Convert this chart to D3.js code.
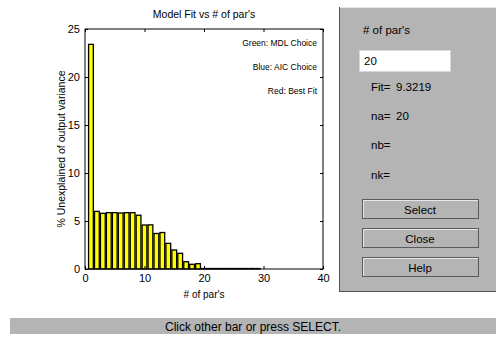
<!DOCTYPE html>
<html>
<head>
<meta charset="utf-8">
<script src="https://cdn.jsdelivr.net/npm/d3@7"></script>
<style>
  body { margin: 0; background: #fff; }
  svg { display: block; font-family: "Liberation Sans", Arial, sans-serif; }
</style>
</head>
<body>
<svg id="chart" width="496" height="342"></svg>
<script>
// number of parameters per bar and the fit value
const nPars = [1, 2, 3, 4, 5, 6, 7, 8, 9, 10, 11, 12, 13, 14, 15, 16, 17, 18, 19,
               20, 21, 22, 23, 24, 25, 26, 27, 28, 29];
const unexplained = [23.4, 6.0, 5.8, 5.87, 5.87, 5.83, 5.87, 5.87, 5.6, 4.58, 4.6, 3.7, 3.8, 2.67, 1.98, 1.63, 0.76, 0.49, 0.55,
                     0.05, 0.05, 0.05, 0.05, 0.05, 0.05, 0.05, 0.05, 0.05, 0.05];
const xTicks = [0, 10, 20, 30, 40];
const yTicks = [0, 5, 10, 15, 20, 25];
const legendLines = ["Green: MDL Choice", "Blue: AIC Choice", "Red: Best Fit"];
const panelInfo = [["Fit=", "9.3219"], ["na=", "20"], ["nb=", ""], ["nk=", ""]];
const buttons = ["Select", "Close", "Help"];

const margin = { left: 85, top: 29 };
const width = 238, height = 240;

const svg = d3.select('#chart');

const g = svg.append('g')
    .attr('transform', `translate(${margin.left},${margin.top})`);

const x = d3.scaleLinear().domain([0, 40]).range([0, width]);
const y = d3.scaleLinear().domain([0, 25]).range([height, 0]);
const barW = x(0.8) - x(0);

g.selectAll('.bar')
    .data(nPars)
    .enter()
    .append('rect')
    .attr('class', 'bar')
    .attr('x', n => x(n) - barW / 2)
    .attr('y', (n, i) => y(unexplained[i]))
    .attr('width', barW)
    .attr('height', (n, i) => y(0) - y(unexplained[i]))
    .attr('fill', '#ffff00')
    .attr('stroke', '#000')
    .attr('stroke-width', 1.3);

// box with inward ticks on all four sides
const styleAxis = sel => {
    sel.select('.domain').remove();
    sel.selectAll('line').attr('stroke', '#000');
    sel.selectAll('text').attr('font-size', 11).attr('fill', '#000');
};

g.append('g')
    .attr('transform', `translate(0,${height})`)
    .call(d3.axisBottom(x).tickValues(xTicks).tickSize(-3).tickPadding(5))
    .call(styleAxis);
g.append('g')
    .call(d3.axisTop(x).tickValues(xTicks).tickSize(-3).tickFormat(''))
    .call(styleAxis);
g.append('g')
    .call(d3.axisLeft(y).tickValues(yTicks).tickSize(-3).tickPadding(5))
    .call(styleAxis);
g.append('g')
    .attr('transform', `translate(${width},0)`)
    .call(d3.axisRight(y).tickValues(yTicks).tickSize(-3).tickFormat(''))
    .call(styleAxis);

g.append('rect')
    .attr('width', width)
    .attr('height', height)
    .attr('fill', 'none')
    .attr('stroke', '#000')
    .attr('stroke-width', 1);

g.append('text')
    .attr('x', width / 2)
    .attr('y', -11)
    .attr('text-anchor', 'middle')
    .attr('font-size', 10.5)
    .text("Model Fit vs # of par's");

g.append('text')
    .attr('x', width / 2)
    .attr('y', height + 29)
    .attr('text-anchor', 'middle')
    .attr('font-size', 10)
    .text("# of par's");

g.append('text')
    .attr('transform', `translate(-20,${height / 2}) rotate(-90)`)
    .attr('text-anchor', 'middle')
    .attr('font-size', 10.5)
    .text('% Unexplained of output variance');

g.selectAll('.legend')
    .data(legendLines)
    .enter()
    .append('text')
    .attr('class', 'legend')
    .attr('x', width - 6)
    .attr('y', (d, i) => 17 + i * 24)
    .attr('text-anchor', 'end')
    .attr('font-size', 8.5)
    .text(d => d);

// control panel on the right
const panel = svg.append('g');
panel.append('rect')
    .attr('x', 339).attr('y', 7)
    .attr('width', 160).attr('height', 285)
    .attr('fill', '#b4b4b4');
panel.append('line').attr('x1', 339).attr('x2', 496).attr('y1', 7.5).attr('y2', 7.5).attr('stroke', '#e6e6e6');
panel.append('line').attr('x1', 339.5).attr('x2', 339.5).attr('y1', 7).attr('y2', 292).attr('stroke', '#555');
panel.append('line').attr('x1', 339).attr('x2', 496).attr('y1', 291.5).attr('y2', 291.5).attr('stroke', '#555');

panel.append('text')
    .attr('x', 363).attr('y', 34)
    .attr('font-size', 11.5)
    .text("# of par's");

panel.append('rect')
    .attr('x', 359.5).attr('y', 50.5)
    .attr('width', 91).attr('height', 21)
    .attr('fill', '#fff')
    .attr('stroke', '#d8d8d8');
panel.append('text')
    .attr('x', 364).attr('y', 65)
    .attr('font-size', 11.5)
    .text('20');

panelInfo.forEach((row, i) => {
    const yy = 91 + [0, 29, 58, 88][i];
    panel.append('text').attr('x', 371).attr('y', yy).attr('font-size', 11.5).text(row[0]);
    panel.append('text').attr('x', 396).attr('y', yy).attr('font-size', 11.5).text(row[1]);
});

buttons.forEach((b, i) => {
    const by = 199 + i * 29;
    panel.append('rect')
        .attr('x', 362.5).attr('y', by + 0.5)
        .attr('width', 116).attr('height', 19)
        .attr('fill', '#b4b4b4')
        .attr('stroke', '#5a5a5a');
    panel.append('path')
        .attr('d', `M363.5,${by + 19} V${by + 1.5} H478`)
        .attr('fill', 'none')
        .attr('stroke', '#e8e8e8');
    panel.append('text')
        .attr('x', 420).attr('y', by + 14.5)
        .attr('text-anchor', 'middle')
        .attr('font-size', 11.5)
        .text(b);
});

// status bar
svg.append('rect')
    .attr('x', 10).attr('y', 318)
    .attr('width', 486).attr('height', 16)
    .attr('fill', '#b4b4b4');
svg.append('text')
    .attr('x', 253).attr('y', 331)
    .attr('text-anchor', 'middle')
    .attr('font-size', 12)
    .text('Click other bar or press SELECT.');
</script>
</body>
</html>
